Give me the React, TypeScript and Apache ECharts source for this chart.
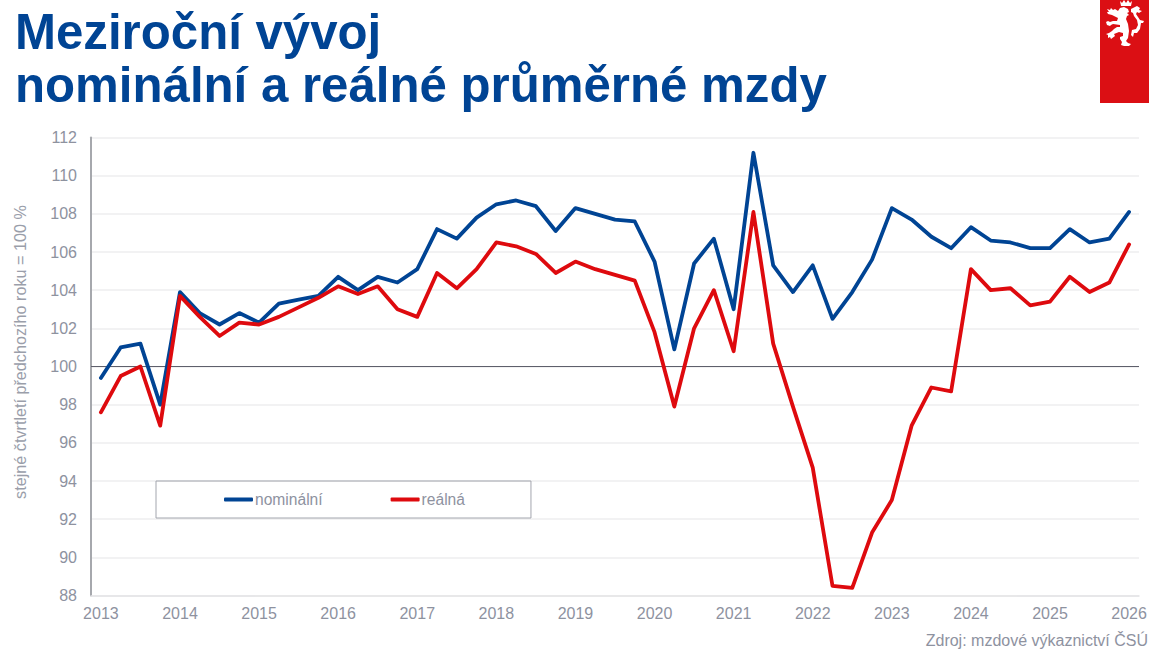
import React, { useEffect, useRef } from "react";
import * as echarts from "echarts";

const years = ["2013","2014","2015","2016","2017","2018","2019","2020","2021","2022","2023","2024","2025","2026"];
const categories = years.flatMap((y) => [y, "", "", ""]).slice(0, 53);
const yTicks = { min: 88, max: 112, step: 2, baseline: 100 };
const nominal = [99.4,101.0,101.2,98.0,103.9,102.8,102.2,102.8,102.3,103.3,103.5,103.7,104.7,104.0,104.7,104.4,105.1,107.2,106.7,107.8,108.5,108.7,108.4,107.1,108.3,108.0,107.7,107.6,105.5,100.9,105.4,106.7,103.0,111.2,105.3,103.9,105.3,102.5,103.9,105.6,108.3,107.7,106.8,106.2,107.3,106.6,106.5,106.2,106.2,107.2,106.5,106.7,108.1];
const real = [97.6,99.5,100.0,96.9,103.7,102.6,101.6,102.3,102.2,102.6,103.1,103.6,104.2,103.8,104.2,103.0,102.6,104.9,104.1,105.1,106.5,106.3,105.9,104.9,105.5,105.1,104.8,104.5,101.8,97.9,102.0,104.0,100.8,108.1,101.2,97.9,94.7,88.5,88.4,91.3,93.0,96.9,98.9,98.7,105.1,104.0,104.1,103.2,103.4,104.7,103.9,104.4,106.4];

const BLUE = "#004494";
const RED = "#DE0A0E";
const GREY = "#8E929F";
const FONT = '"Liberation Sans", Arial, sans-serif';

const LION =
  "M20 1 L22 3 L24 0 L26 3 L28 0 L30 3 L32 1 L31 6 L21 6 Z " +
  "M7 9 L10 10 L11 8 L13 10 L15 9 L18 11 L20 8 L24 7 L28 9 L29 12 L27 13 L29 15 L27 16 L26 19 L28 24 L29 31 L28 38 L26 41 L28 43 L31 44 L29 46 L24 46 L21 45 L22 42 L20 39 L20 37 L23 36 L23 33 L19 32 L14 34 L15 36 L11 39 L10 37 L8 38 L8 35 L6 34 L9 33 L12 31 L14 29 L17 27 L20 27 L20 25 L13 24 L11 25 L10 26 L7 25 L6 22 L8 21 L10 22 L13 21 L17 21 L18 18 L14 16 L12 15 L8 14 L7 12 L9 12 Z " +
  "M33 8 L37 6 L40 8 L39 10 L42 11 L39 13 L37 12 L36 14 L38 17 L40 20 L44 21 L43 23 L41 23 L40 29 L37 33 L34 33 L33 37 L31 35 L32 30 L36 29 L38 25 L37 20 L34 16 L33 13 L31 12 L31 9 Z";

export default function App() {
  const ref = useRef<HTMLDivElement>(null);
  useEffect(() => {
    document.body.style.margin = "0";
    echarts.graphic.registerShape("lionMark", echarts.graphic.extendPath(LION, {}) as any);
    const chart = echarts.init(ref.current!, undefined, { renderer: "svg" });
    chart.setOption({
      animation: false,
      backgroundColor: "#fff",
      title: {
        text: "Meziroční vývoj\nnominální a reálné průměrné mzdy",
        left: 15,
        top: 5,
        padding: 0,
        textStyle: { color: BLUE, fontFamily: FONT, fontWeight: "bold", fontSize: 49.2, lineHeight: 53 },
      },
      grid: { left: 91, right: 24, top: 137.5, bottom: 60.5, containLabel: false },
      legend: {
        left: 156,
        top: 481,
        padding: [10.5, 66, 10.5, 68],
        itemGap: 68,
        itemWidth: 29,
        itemHeight: 4,
        icon: "roundRect",
        borderColor: "#A3A6AE",
        borderWidth: 1,
        textStyle: { color: GREY, fontFamily: FONT, fontSize: 15.6, padding: [0, 0, 0, -3] },
        data: ["nominální", "reálná"],
      },
      xAxis: {
        type: "category",
        data: categories,
        axisTick: { show: false },
        axisLine: { show: true, lineStyle: { color: "#E4E4E6", width: 1.5 } },
        axisLabel: { interval: 3, color: GREY, fontFamily: FONT, fontSize: 16, margin: 10 },
      },
      yAxis: {
        type: "value",
        min: yTicks.min,
        max: yTicks.max,
        interval: yTicks.step,
        axisLine: { show: true, lineStyle: { color: "#A6A8AD", width: 2 } },
        axisTick: { show: false },
        axisLabel: { color: GREY, fontFamily: FONT, fontSize: 16, margin: 14 },
        splitLine: { lineStyle: { color: "#EEEEEF", width: 1.5 } },
      },
      series: [
        {
          name: "nominální",
          type: "line",
          data: nominal,
          symbol: "none",
          z: 3,
          color: BLUE,
          lineStyle: { color: BLUE, width: 3.8, cap: "round", join: "round" },
          markLine: {
            silent: true,
            z: 1,
            symbol: "none",
            label: { show: false },
            lineStyle: { color: "#5E5F6B", width: 1, type: "solid" },
            data: [{ yAxis: yTicks.baseline }],
          },
        },
        {
          name: "reálná",
          type: "line",
          data: real,
          symbol: "none",
          z: 4,
          color: RED,
          lineStyle: { color: RED, width: 3.8, cap: "round", join: "round" },
        },
      ],
      graphic: [
        { type: "rect", shape: { x: 1100, y: 0, width: 49, height: 103 }, style: { fill: "#DB0F14" } },
        { type: "lionMark", x: 1100, y: 0, style: { fill: "#fff" }, z: 10 },
        {
          type: "text",
          x: 20,
          y: 352,
          rotation: Math.PI / 2,
          style: { text: "stejné čtvrtletí předchozího roku = 100 %", fill: "#9A9EAA", font: `16.2px ${FONT}`, align: "center", verticalAlign: "middle" },
        },
        {
          type: "text",
          x: 1148,
          y: 640,
          style: { text: "Zdroj: mzdové výkaznictví ČSÚ", fill: GREY, font: `16px ${FONT}`, align: "right", verticalAlign: "middle" },
        },
      ],
    });
    return () => chart.dispose();
  }, []);
  return <div ref={ref} style={{ position: "absolute", left: 0, top: 0, width: 1163, height: 656 }} />;
}
